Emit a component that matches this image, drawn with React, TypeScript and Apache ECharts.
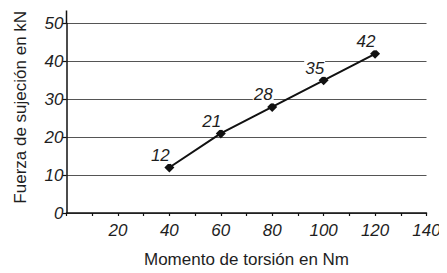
import React, { useEffect, useRef } from "react";
import * as echarts from "echarts";

const torque = [40, 60, 80, 100, 120];
const force = [12, 21, 28, 35, 42];
const xTicks = { min: 0, max: 140, step: 10 };
const yTicks = { min: 0, max: 50, step: 10 };
const xName = "Momento de torsión en Nm";
const yName = "Fuerza de sujeción en kN";

const FONT = "'Liberation Sans', Arial, sans-serif";
const INK = "#1e1e1e";

export default function App() {
  const ref = useRef<HTMLDivElement>(null);
  useEffect(() => {
    if (!ref.current) return;
    const chart = echarts.init(ref.current, undefined, { renderer: "svg" });
    chart.setOption({
      animation: false,
      backgroundColor: "#fff",
      grid: {
        left: 66.5,
        right: 20.5,
        top: 23.5,
        bottom: 60,
        containLabel: false,
        outerBoundsMode: "none",
      },
      xAxis: {
        type: "value",
        min: xTicks.min,
        max: xTicks.max,
        interval: xTicks.step,
        name: xName,
        nameLocation: "middle",
        nameGap: 38,
        nameTextStyle: { fontFamily: FONT, fontSize: 17, color: INK },
        axisLine: { show: true, lineStyle: { color: "#111", width: 1.5 } },
        axisTick: { show: true, length: 3, lineStyle: { color: "#111", width: 1.2 } },
        axisLabel: {
          fontFamily: FONT,
          fontStyle: "italic",
          fontSize: 17,
          color: INK,
          margin: 9,
          formatter: (v: number) => (v !== 0 && v % 20 === 0 ? String(v) : ""),
        },
        splitLine: { show: false },
      },
      yAxis: {
        type: "value",
        min: yTicks.min,
        max: yTicks.max,
        interval: yTicks.step,
        name: yName,
        nameLocation: "middle",
        nameGap: 38,
        nameTextStyle: { fontFamily: FONT, fontSize: 17, color: INK, padding: [0, 0, 0, 22] },
        axisLine: { show: true, lineStyle: { color: "#111", width: 1.5 } },
        axisTick: { show: true, length: 4, lineStyle: { color: "#111", width: 1.2 } },
        axisLabel: {
          fontFamily: FONT,
          fontStyle: "italic",
          fontSize: 17,
          color: INK,
          margin: 3,
        },
        splitLine: { show: true, lineStyle: { color: "#555", width: 1.2 } },
      },
      series: [
        {
          type: "line",
          data: torque.map((t, i) => [t, force[i]]),
          symbol: "diamond",
          symbolSize: 10,
          itemStyle: { color: "#111" },
          lineStyle: { color: "#111", width: 2 },
          label: {
            show: true,
            position: "inside",
            offset: [-9, -12],
            formatter: (p: any) => String(p.value[1]),
            fontFamily: FONT,
            fontStyle: "italic",
            fontSize: 17,
            color: INK,
            backgroundColor: "#fff",
            padding: [0, 1],
          },
        },
      ],
    });
    const top = chart.convertToPixel({ gridIndex: 0 }, [0, yTicks.max]) as number[];
    chart.setOption({
      graphic: [
        {
          type: "line",
          shape: { x1: top[0], y1: top[1], x2: top[0], y2: top[1] - 13 },
          style: { stroke: "#111", lineWidth: 1.5 },
        },
      ],
    });
    return () => chart.dispose();
  }, []);
  return <div ref={ref} style={{ width: 447, height: 273, margin: -8 }} />;
}
